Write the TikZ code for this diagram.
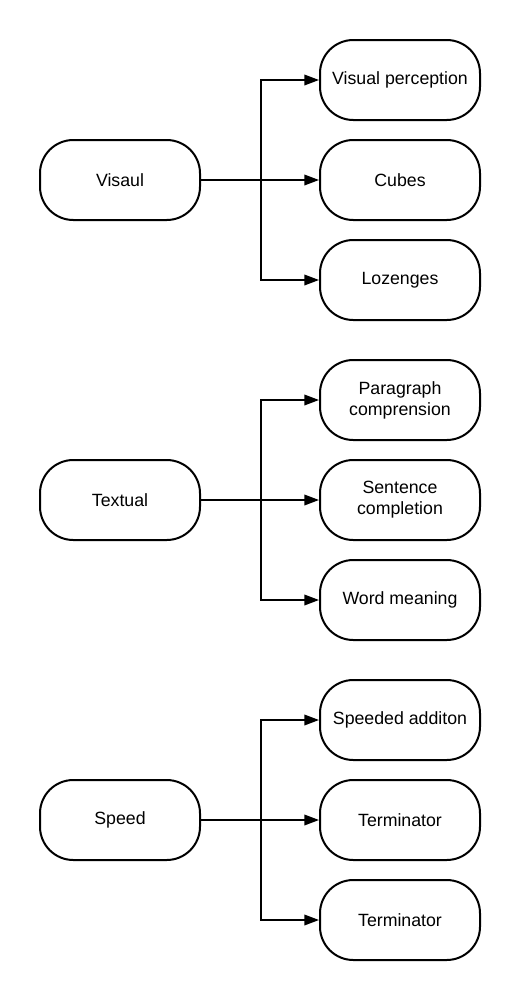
\documentclass[tikz,border=0pt]{standalone}
\usepackage{fontspec}
\setmainfont{Liberation Sans}
\usetikzlibrary{arrows.meta}
\begin{document}
\begin{tikzpicture}[x=0.75pt,y=-0.75pt,
  box/.style={draw=black,line width=1.5pt,rounded corners=25pt,minimum width=120pt,minimum height=60pt,
    align=center,inner sep=0pt,font=\fontsize{13.3}{15.8}\selectfont},
  conn/.style={line width=1.1pt,-{Triangle[length=11pt,width=8pt]}}]
\useasboundingbox (0,0) rectangle (520,1000);
\foreach \nm/\lab/\cy/\a/\b/\c in {v/Visaul/180/Visual perception/Cubes/Lozenges,
   t/Textual/500/Paragraph\\comprension/Sentence\\completion/Word meaning,
   s/Speed/820/Speeded additon/Terminator/Terminator}{
  \node[box] (\nm) at (120,\cy) {\lab};
  \node[box] (\nm a) at (400,\cy-100) {\a};
  \node[box] (\nm b) at (400,\cy) {\b};
  \node[box] (\nm c) at (400,\cy+100) {\c};
  \draw[conn] (\nm.east) -- (\nm b.west);
  \draw[conn] (\nm.east) -- ++(60,0) |- (\nm a.west);
  \draw[conn] (\nm.east) -- ++(60,0) |- (\nm c.west);
}
\end{tikzpicture}
\end{document}
